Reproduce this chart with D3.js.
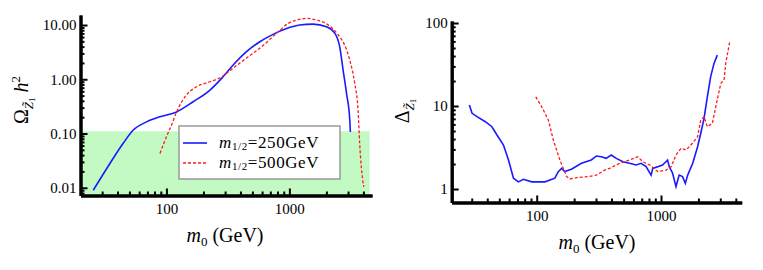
<!DOCTYPE html>
<html>
<head>
<meta charset="utf-8">
<script src="https://cdn.jsdelivr.net/npm/d3@7"></script>
<style>
  body { margin: 0; background: #fff; }
  svg { display: block; }
  svg text { font-family: "Liberation Serif", "DejaVu Serif", serif; fill: #000; }
  .axis text { font-size: 15px; }
  .axis line { stroke: #000; stroke-width: 2; }
  .axis path { stroke: #000; stroke-width: 3; }
</style>
</head>
<body>
<div id="chart"></div>
<script>
// left panel: relic density vs m0
const omegaM0_250 = [25.4, 34.7, 44.5, 53.7, 69, 88.5, 121, 165, 226, 281, 349, 448, 575, 737, 961, 1212, 1557, 2000, 2348, 2566, 2735, 2916, 3100, 3135];
const omega_250   = [0.009, 0.028, 0.066, 0.116, 0.164, 0.203, 0.25, 0.385, 0.632, 1.04, 1.83, 3.22, 4.92, 6.73, 8.69, 10.0, 10.4, 9.3, 7.03, 4.0, 1.48, 0.55, 0.177, 0.107];
const omegaM0_500 = [88.6, 100, 110, 121, 141, 176, 226, 281, 360, 463, 594, 787, 978, 1256, 1378, 1610, 2070, 2445, 2916, 3100, 3400, 3620, 3730, 3850, 4030];
const omega_500   = [0.043, 0.087, 0.143, 0.25, 0.47, 0.73, 0.90, 1.11, 1.70, 2.60, 3.98, 7.03, 10.7, 12.9, 13.3, 12.6, 10.0, 7.0, 3.5, 2.26, 0.84, 0.27, 0.066, 0.024, 0.0104];

// right panel: fine tuning measure vs m0
const deltaM0_250 = [28.7, 30.2, 33.1, 38.6, 43.6, 47.9, 54, 59.3, 65, 71.2, 78.1, 91.2, 116.5, 140, 149, 158.5, 168, 190, 229, 275, 302, 331, 362, 398, 437, 494, 558, 631, 692, 759, 832, 858, 941, 1030, 1130, 1165, 1240, 1320, 1400, 1490, 1570, 1640, 1800, 1970, 2090, 2220, 2360, 2510, 2670, 2840];
const delta_250   = [10.3, 8.17, 7.45, 6.47, 5.63, 4.47, 3.39, 2.24, 1.35, 1.22, 1.31, 1.22, 1.22, 1.35, 1.62, 1.77, 1.62, 1.73, 2.04, 2.24, 2.5, 2.45, 2.34, 2.57, 2.34, 2.13, 2.04, 1.95, 2.04, 1.86, 1.47, 1.77, 1.86, 1.95, 2.24, 1.86, 1.55, 1.07, 1.47, 1.41, 1.17, 1.47, 2.04, 3.23, 4.69, 7.1, 12.9, 22.6, 32.6, 41];
const deltaM0_500 = [98.2, 109.6, 124, 136, 153.6, 174, 185, 215, 259, 302, 352, 385, 464, 558, 650, 714, 810, 941, 1100, 1210, 1320, 1450, 1590, 1740, 1970, 2090, 2220, 2360, 2590, 2760, 3030, 3215, 3320, 3570];
const delta_500   = [12.9, 9.8, 6.8, 3.9, 2.24, 1.41, 1.32, 1.38, 1.41, 1.47, 1.69, 1.77, 2.04, 2.24, 2.45, 2.13, 1.95, 1.62, 1.69, 1.86, 2.57, 3.09, 2.95, 3.39, 4.26, 6.8, 7.45, 5.63, 6.2, 9.8, 18.8, 20.5, 32.6, 59.5];

const bandTop = 0.11;     // WMAP upper value
const bandEndM0 = 4500;
const legendLabels = ["250GeV", "500GeV"];

const xMajor = [100, 1000];
const xMinor = [30, 40, 50, 60, 70, 80, 90, 200, 300, 400, 500, 600, 700, 800, 900, 2000, 3000, 4000];
const omegaMajor = [0.01, 0.1, 1, 10];
const omegaMinor = [0.008, 0.009, 0.02, 0.03, 0.04, 0.05, 0.06, 0.07, 0.08, 0.09, 0.2, 0.3, 0.4, 0.5, 0.6, 0.7, 0.8, 0.9, 2, 3, 4, 5, 6, 7, 8, 9];
const deltaMajor = [1, 10, 100];
const deltaMinor = [2, 3, 4, 5, 6, 7, 8, 9, 20, 30, 40, 50, 60, 70, 80, 90];

const zip = (xs, ys) => xs.map((x, i) => [x, ys[i]]);

const svg = d3.select("#chart").append("svg")
              .attr("width", 763)
              .attr("height", 270);

// scales
const x1 = d3.scaleLog().domain([20, 4700]).range([80.5, 372]);
const y1 = d3.scaleLog().domain([0.0072, 15.3]).range([195.5, 15]);
const x2 = d3.scaleLog().domain([20.7, 4460]).range([451.7, 741.7]);
const y2 = d3.scaleLog().domain([0.688, 105.7]).range([202.5, 21]);

// green band first so axes sit on top
svg.append("rect")
   .attr("x", x1(x1.domain()[0]))
   .attr("y", y1(bandTop))
   .attr("width", x1(bandEndM0) - x1(x1.domain()[0]))
   .attr("height", y1(y1.domain()[0]) - y1(bandTop))
   .attr("fill", "#c3f9c3");

function drawAxes(x, y, yMajor, yMinor, yFmt) {
  const bottom = y.range()[0], left = x.range()[0];
  svg.append("g").attr("class", "axis")
     .attr("transform", `translate(0,${bottom})`)
     .call(d3.axisBottom(x).tickValues(xMinor).tickSize(-4).tickSizeOuter(0).tickFormat(""));
  svg.append("g").attr("class", "axis")
     .attr("transform", `translate(0,${bottom})`)
     .call(d3.axisBottom(x).tickValues(xMajor).tickSize(-7).tickSizeOuter(0).tickPadding(8).tickFormat(d3.format("d")));
  svg.append("g").attr("class", "axis")
     .attr("transform", `translate(${left},0)`)
     .call(d3.axisLeft(y).tickValues(yMinor).tickSize(-4).tickSizeOuter(0).tickFormat(""));
  svg.append("g").attr("class", "axis")
     .attr("transform", `translate(${left},0)`)
     .call(d3.axisLeft(y).tickValues(yMajor).tickSize(-7).tickSizeOuter(0).tickPadding(4).tickFormat(yFmt));
  svg.selectAll(".axis path").attr("fill", "none");
}

drawAxes(x1, y1, omegaMajor, omegaMinor, d3.format(".2f"));
drawAxes(x2, y2, deltaMajor, deltaMinor, d3.format("d"));

function drawCurve(x, y, pts, dashed, curve) {
  const line = d3.line().x(d => x(d[0])).y(d => y(d[1])).curve(curve);
  svg.append("path")
     .datum(pts)
     .attr("d", line)
     .attr("fill", "none")
     .attr("stroke", dashed ? "#ff1a1a" : "#1a1aff")
     .attr("stroke-width", dashed ? 1.3 : 1.6)
     .attr("stroke-dasharray", dashed ? "3,2" : null);
}

drawCurve(x1, y1, zip(omegaM0_250, omega_250), false, d3.curveMonotoneX);
drawCurve(x1, y1, zip(omegaM0_500, omega_500), true, d3.curveMonotoneX);
drawCurve(x2, y2, zip(deltaM0_250, delta_250), false, d3.curveLinear);
drawCurve(x2, y2, zip(deltaM0_500, delta_500), true, d3.curveLinear);

// legend
const leg = svg.append("g").attr("transform", "translate(179,126)");
leg.append("rect").attr("width", 161).attr("height", 53)
   .attr("fill", "#fff").attr("stroke", "#999").attr("stroke-width", 1.5);
legendLabels.forEach((lab, i) => {
  const ly = 17 + i * 20;
  leg.append("line").attr("x1", 4).attr("x2", 28).attr("y1", ly).attr("y2", ly)
     .attr("stroke", i ? "#ff1a1a" : "#1a1aff")
     .attr("stroke-width", i ? 1.3 : 1.6)
     .attr("stroke-dasharray", i ? "3,2" : null);
  const t = leg.append("text").attr("x", 40).attr("y", ly + 5)
               .style("font-size", "17px").style("letter-spacing", "0.6px");
  t.append("tspan").attr("font-style", "italic").text("m");
  t.append("tspan").attr("dy", 2).style("font-size", "11px").text("1/2");
  t.append("tspan").attr("dy", -2).text("=" + lab);
});

// x titles
function xTitle(cx, by) {
  const t = svg.append("text").attr("x", cx).attr("y", by)
               .attr("text-anchor", "middle").style("font-size", "20px");
  t.append("tspan").attr("font-style", "italic").text("m");
  t.append("tspan").attr("dy", 4).style("font-size", "13px").text("0");
  t.append("tspan").attr("dy", -4).text(" (GeV)");
}
xTitle(225, 242);
xTitle(597, 249);

// y titles
const ty1 = svg.append("text")
   .attr("transform", "translate(28,100) rotate(-90)")
   .attr("text-anchor", "middle").style("font-size", "20px");
ty1.append("tspan").text("Ω");
ty1.append("tspan").attr("dy", 5).style("font-size", "13px").attr("font-style", "italic").text("Z\u0303");
ty1.append("tspan").attr("dy", 2).style("font-size", "9px").text("1");
ty1.append("tspan").attr("dy", -7).text(" ");
ty1.append("tspan").attr("font-style", "italic").text("h");
ty1.append("tspan").attr("dy", -8).style("font-size", "13px").text("2");

const ty2 = svg.append("text")
   .attr("transform", "translate(409,111) rotate(-90)")
   .attr("text-anchor", "middle").style("font-size", "20px");
ty2.append("tspan").text("Δ");
ty2.append("tspan").attr("dy", 5).style("font-size", "13px").attr("font-style", "italic").text("Z\u0303");
ty2.append("tspan").attr("dy", 2).style("font-size", "9px").text("1");
</script>
</body>
</html>
